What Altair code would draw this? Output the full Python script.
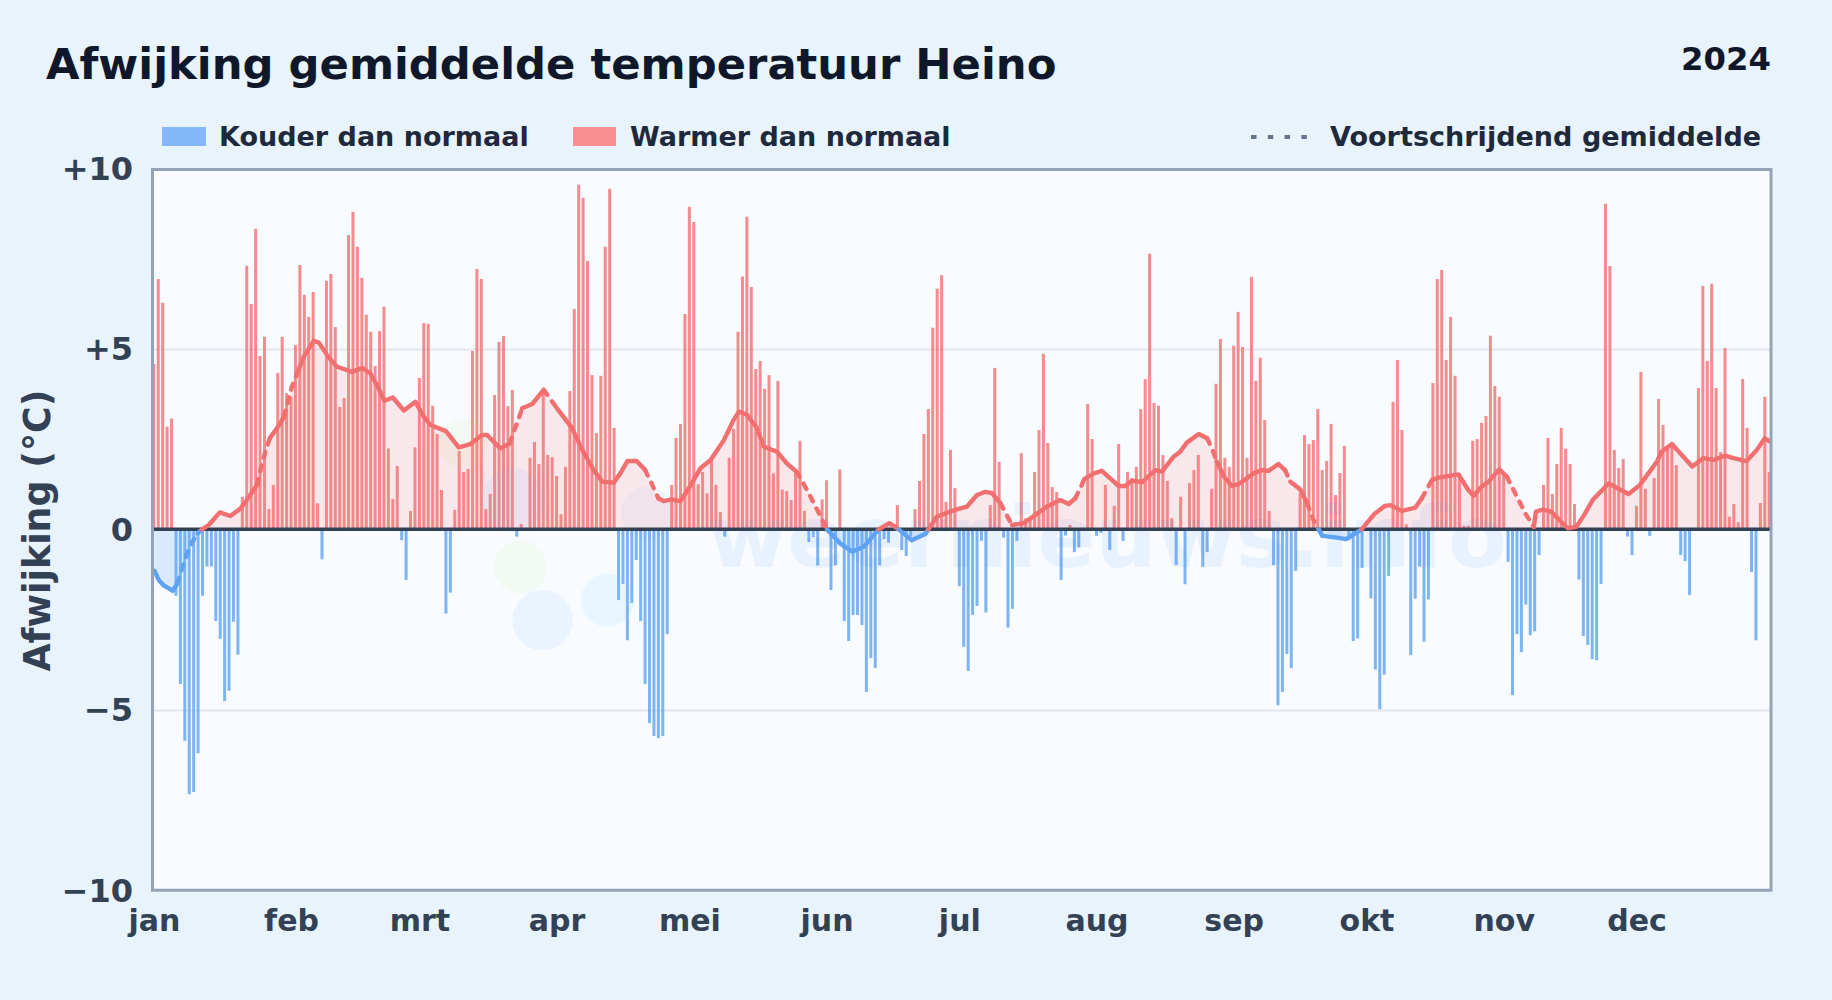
import altair as alt
import pandas as pd

TITLE = "Afwijking gemiddelde temperatuur Heino"
YEAR = "2024"
WATERMARK = "weernieuws.info"
MONTHS = ["jan","feb","mrt","apr","mei","jun","jul","aug","sep","okt","nov","dec"]
MONTH_START = [0,31,60,91,121,152,182,213,244,274,305,335]

jan = [4.58,6.93,6.27,2.84,3.07,-1.84,-4.28,-5.85,-7.33,-7.27,-6.2,-1.84,-1.03,-1.03,-2.54,-3.03,-4.75,-4.47,-2.56,-3.47,0.9,7.3,6.24,8.32,4.8,5.33,0.56,1.23,4.33,5.33,3.77]
feb = [3.67,5.1,7.32,6.49,5.88,6.57,0.72,-0.83,6.88,7.07,5.6,3.39,3.64,8.15,8.79,7.82,6.96,5.94,5.47,4.52,5.49,6.16,2.24,0.84,1.75,-0.3,-1.4,0.51,2.27]
mrt = [4.19,5.71,5.69,3.42,2.64,1.09,-2.33,-1.75,0.54,2.17,1.59,1.67,4.94,7.21,6.93,0.56,0.98,3.72,5.19,5.35,3.41,3.86,-0.2,0.15,0,1.98,2.42,1.81,3.86,2.06,2.0]
apr = [1.48,0.42,1.73,3.83,6.1,9.54,9.18,7.43,4.27,2.67,4.25,7.82,9.43,2.81,-1.96,-1.51,-3.07,-2.04,-0.85,-2.54,-4.28,-5.36,-5.72,-5.78,-5.72,-2.9,1.23,2.53,2.92,5.96]
mei = [8.93,8.51,1.25,1.59,1.0,1.92,1.23,0.48,-0.2,1.98,2.78,5.47,7.0,8.65,6.71,4.44,4.66,3.89,4.27,1.55,4.11,1.1,1.06,0.81,1.6,2.45,0.51,-0.35,-0.22,-1.0,0.83]
jun = [1.36,-1.68,-1.0,1.66,-2.54,-3.09,-2.37,-2.37,-2.65,-4.5,-3.56,-3.84,-1.0,-0.27,-0.37,0,0.67,-0.57,-0.74,-0.2,0.56,1.34,2.64,3.33,5.58,6.66,7.04,0.76,2.2,1.14]
jul = [-1.57,-3.25,-3.92,-2.37,-2.12,-0.32,-2.3,0.67,4.47,1.87,-0.23,-2.72,-2.2,-0.32,2.11,0.31,0.26,1.59,2.75,4.86,2.39,1.17,1.03,-1.4,-0.17,0.12,-0.63,-0.5,0,3.47,2.5]
aug = [-0.18,-0.1,1.23,-0.57,0.65,2.36,-0.32,1.59,1.42,1.73,3.33,4.16,7.63,3.5,3.42,2.06,1.34,0.31,-0.99,0.9,-1.52,1.28,1.64,2.06,-1.04,-0.63,1.12,4.03,5.27,1.98,1.73]
sep = [5.08,6.02,5.05,1.98,6.99,4.11,4.75,3.03,0.51,-0.99,-4.87,-4.5,-3.45,-3.84,-1.15,1.0,2.61,2.36,2.47,3.33,1.64,1.89,2.92,0.95,1.56,2.31,-0.3,-3.09,-3.02,-1.07]
okt = [0,-1.91,-3.88,-4.98,-4.02,-1.29,3.53,4.69,2.75,0.14,-3.48,-1.92,-1.03,-3.11,-1.94,4.05,6.93,7.18,4.69,5.88,4.25,1.5,0.1,0.1,2.45,2.5,2.95,3.14,5.36,3.97,3.67]
nov = [1.55,-0.9,-4.59,-2.9,-3.4,-2.08,-2.93,-2.82,-0.71,1.23,2.53,0.98,1.81,2.81,2.23,1.81,0.7,-1.39,-2.95,-3.2,-3.59,-3.62,-1.51,9.01,7.29,2.2,1.7,1.95,-0.2,-0.71]
dec = [0.65,4.36,1.12,-0.18,1.42,3.61,2.89,2.3,2.3,1.78,-0.71,-0.88,-1.82,0,3.91,6.74,4.66,6.8,3.91,2.14,5.02,0.35,0.7,0.2,4.16,2.81,-1.18,-3.07,0.73,3.67,1.59]
deviation = jan+feb+mrt+apr+mei+jun+jul+aug+sep+okt+nov+dec

avg_day = [0.15,1.1,2.3,4.3,5.3,6.2,7.4,8.3,9.9,10.9,12.4,14.9,17.3,19.6,21,23.3,24.2,25.2,26.2,28.6,29.4,31.2,32.4,33.9,36.1,37.3,39.5,41.4,44.8,47.1,48.9,50.6,52.1,54,56.5,59.1,61,62.5,66,68.9,71.5,74.2,75.3,78.3,80.4,81.3,82.2,83.2,85.5,88.1,91.1,94.5,96.8,99.4,101.3,103.9,105.4,107,109.1,111,112.1,114,115.2,117,119,120.9,123.5,125.8,128.8,131,132.2,134,136.3,137.8,140.8,143,145.2,147.6,149.9,152.1,155.1,157.8,160.4,163,163.8,166.2,168.3,171.2,174.3,175,176.9,179.2,181.4,183.7,186,187.9,189.4,191.3,193.9,196.5,199.2,201.8,204.8,206.7,208.2,209.5,210.2,212.4,214.2,216.1,218,219.5,221,223.3,226.3,227.8,230.4,231.9,233.4,236.1,238,239.1,240.2,241.8,243.6,245.1,248.5,250.4,251.9,254.1,255.6,256.8,259,260.6,262,263.2,264,267.3,269.4,272.9,275.9,278.2,279.4,282,285,286.5,288.8,290.3,294.8,297,298.2,300,301.6,304,305.7,307.6,309.9,311.8,312.3,313.8,315.7,317.6,319.5,321.4,323.2,325.1,328.7,333.2,335.8,339.6,340.7,343,345.6,347.6,350.1,352.4,355,356.9,359.9,362.2,364,365.2]
avg_val = [-1.15,-1.4,-1.56,-1.7,-1.5,-1.17,-0.71,-0.43,-0.11,0,0.12,0.47,0.37,0.58,0.81,1.23,1.69,2.15,2.52,2.94,3.12,3.95,4.32,4.78,5.22,5.17,4.76,4.5,4.36,4.47,4.32,3.95,3.56,3.65,3.29,3.53,3.12,2.89,2.72,2.27,2.36,2.61,2.61,2.24,2.38,2.7,2.98,3.35,3.47,3.86,3.35,2.8,2.2,1.64,1.32,1.29,1.55,1.89,1.89,1.64,1.37,0.86,0.78,0.83,0.78,1.14,1.69,1.92,2.47,3.03,3.26,3.17,2.8,2.29,2.15,1.83,1.6,1.09,0.54,0,-0.39,-0.62,-0.48,-0.11,0,0.17,0,-0.3,-0.13,0,0.35,0.46,0.55,0.63,0.95,1.04,1.0,0.72,0.12,0.17,0.4,0.63,0.81,0.7,0.86,1.18,1.39,1.55,1.62,1.41,1.2,1.2,1.35,1.31,1.64,1.6,2.01,2.15,2.4,2.64,2.52,2.24,1.87,1.46,1.2,1.25,1.55,1.64,1.62,1.81,1.64,1.32,1.11,0.72,0.26,0,-0.18,-0.23,-0.27,0,0.44,0.65,0.67,0.51,0.6,0.86,1.37,1.43,1.52,1.09,0.93,1.18,1.32,1.66,1.46,1.0,0.44,0.07,0.49,0.55,0.49,0.26,0.03,0.07,0.4,0.81,1.27,0.98,1.23,1.87,2.15,2.36,2.01,1.74,1.97,1.92,2.04,1.97,1.89,2.2,2.52,2.43]
dashed_spans = [(5.3,9.9),(23.3,26.2),(29.4,32.4),(80.4,83.2),(88.1,91.1),(110.8,114),(145.2,152.1),(191.3,193.9),(208.2,210.2),(238,240.2),(255.6,256.8),(260.6,264),(286.5,288.8),(305.7,311.8)]

RED, BLUE = "#fa7070", "#60a5fa"
BAR_RED, BAR_BLUE = "#f26f6f", "#5ea3f2"
x_scale = alt.Scale(domain=[-0.3, 365.4], nice=False, zero=False, padding=0)
y_scale = alt.Scale(domain=[-10, 10], nice=False, padding=0)

bars = pd.DataFrame({"day": range(len(deviation)), "dev": deviation})
bars["kind"] = ["warm" if v >= 0 else "cold" for v in deviation]
avg = pd.DataFrame({"day": avg_day, "val": avg_val})
avg["pos"] = avg["val"].clip(lower=0)
avg["neg"] = avg["val"].clip(upper=0)

# split the running mean into runs of one colour and one line style
rows, seg, prev = [], 0, None
for i in range(len(avg_day) - 1):
    a, b = (avg_day[i], avg_val[i]), (avg_day[i + 1], avg_val[i + 1])
    mid = (a[0] + b[0]) / 2
    style = ("cold" if (a[1] + b[1]) < 0 else "warm",
             any(s <= mid <= e for s, e in dashed_spans))
    if style != prev:
        seg += 1
        rows.append(dict(day=a[0], val=a[1], seg=seg, kind=style[0], dashed=style[1]))
        prev = style
    rows.append(dict(day=b[0], val=b[1], seg=seg, kind=style[0], dashed=style[1]))
runs = pd.DataFrame(rows)

kind_color = alt.Color("kind:N", scale=alt.Scale(domain=["warm", "cold"], range=[RED, BLUE]), legend=None)
bar_color = alt.Color("kind:N", scale=alt.Scale(domain=["warm", "cold"], range=[BAR_RED, BAR_BLUE]), legend=None)

month_map = "{" + ",".join(f"'{s}':'{m}'" for s, m in zip(MONTH_START, MONTHS)) + "}"
axis_x = alt.Axis(values=MONTH_START, labelExpr=f"{month_map}[datum.value]", title=None, grid=False,
                  ticks=False, domain=False, labelFont="DejaVu Sans", labelFontWeight="bold", labelFontSize=30,
                  labelColor="#334155", labelPadding=16, labelFlush=False, labelOverlap=False)
axis_y = alt.Axis(values=[-10, -5, 0, 5, 10],
                  labelExpr="datum.value > 0 ? '+' + datum.value : datum.value < 0 ? '\u2212' + abs(datum.value) : '0'",
                  title="Afwijking (\u00b0C)", titleFont="DejaVu Sans", titleFontWeight="bold", titleFontSize=36.4,
                  titleColor="#334155", titleAngle=270, titleX=-114, titleY=362, titleAlign="center", titleBaseline="middle",
                  grid=True, gridColor="#e2e8f0", gridWidth=2,
                  gridOpacity={"condition": {"test": "abs(datum.value) != 5", "value": 0}, "value": 1},
                  ticks=False, domain=False, labelFont="DejaVu Sans", labelFontWeight="bold", labelFontSize=32,
                  labelColor="#334155", labelPadding=20, labelOffset=1, labelOverlap=False, labelFlush=False)
X = lambda: alt.X("day:Q", scale=x_scale, axis=axis_x)
Y = lambda f: alt.Y(f, type="quantitative", scale=y_scale, axis=axis_y)

def txt(s, x, y, size, color, align="left", opacity=1):
    kw = dict(text=s, font="DejaVu Sans", fontWeight="bold", fontSize=size, color=color, align=align, baseline="alphabetic", opacity=opacity)
    return alt.Chart().mark_text(**kw).encode(x=alt.value(x), y=alt.value(y))

def blob(x, y, r, color, opacity):
    return alt.Chart().mark_circle(color=color, opacity=opacity).encode(
        x=alt.value(x), y=alt.value(y), size=alt.value(3.1416 * r * r))

def swatch(x0, x1, y0, y1, color):
    return alt.Chart().mark_rect(color=color).encode(x=alt.value(x0), x2=alt.value(x1), y=alt.value(y0), y2=alt.value(y1))

W, H = 1618.5, 722.5
OX, OY = 152.5, 168.1

blobs = [blob(390, 452, 34, "#60a5fa", 0.09), blob(455, 432, 30, "#7dd3fc", 0.12), blob(368, 399, 30, "#bef264", 0.07),
         blob(311, 275, 28, "#bef264", 0.07), blob(361, 332, 36, "#60a5fa", 0.08), blob(495, 345, 30, "#60a5fa", 0.05)]
watermark = txt(WATERMARK, 955, 399, 86, "#3b82f6", align="center", opacity=0.08)

area_pos = alt.Chart(avg).mark_area(color=RED, opacity=0.14, clip=True).encode(x=X(), y=Y("pos"), y2=alt.datum(0))
area_neg = alt.Chart(avg).mark_area(color=BLUE, opacity=0.2, clip=True).encode(x=X(), y=Y("neg"), y2=alt.datum(0))

bar_layer = alt.Chart(bars).mark_bar(width=3, opacity=0.8, clip=True).encode(
    x=X(), y=Y("dev"), y2=alt.datum(0), color=bar_color)
zero = alt.Chart().mark_rule(color="#334155", strokeWidth=3.5).encode(y=alt.Y(datum=0, type="quantitative", scale=y_scale, axis=axis_y))

line_common = dict(strokeWidth=4.4, strokeCap="round", strokeJoin="round", clip=True)
enc = dict(x=X(), y=Y("val"), color=kind_color, detail="seg:N", order="day:Q")
solid = alt.Chart(runs[~runs.dashed]).mark_line(**line_common).encode(**enc)
dash = alt.Chart(runs[runs.dashed]).mark_line(strokeDash=[6, 8], **line_common).encode(**enc)

frame = alt.Chart().mark_rect(fillOpacity=0, stroke="#94a3b8", strokeWidth=3).encode(
    x=alt.value(0), x2=alt.value(W), y=alt.value(169.5 - OY), y2=alt.value(890.3 - OY))

header = [
    txt(TITLE, 46 - OX, 79 - OY, 43.3, "#0f172a"),
    txt(YEAR, 1771 - OX, 70 - OY, 32.3, "#0f172a", align="right"),
    swatch(162 - OX, 206 - OX, 127 - OY, 146 - OY, "#85b8fb"),
    txt("Kouder dan normaal", 219 - OX, 146 - OY, 27, "#1e293b"),
    swatch(573 - OX, 616 - OX, 127 - OY, 146 - OY, "#f98f90"),
    txt("Warmer dan normaal", 630 - OX, 146 - OY, 27, "#1e293b"),
    alt.Chart().mark_rule(color="#64748b", strokeWidth=4, strokeDash=[5.5, 11.3]).encode(
        x=alt.value(1251 - OX), x2=alt.value(1310 - OX), y=alt.value(137 - OY)),
    txt("Voortschrijdend gemiddelde", 1330 - OX, 146 - OY, 27.05, "#1e293b"),
]

chart = alt.layer(bar_layer, *blobs, watermark, area_pos, area_neg, zero, solid, dash, frame, *header).properties(
    width=W, height=H, background="#e8f3fc",
    autosize=alt.AutoSizeParams(type="none"),
    padding={"left": 144.5, "top": 160.1, "right": 53, "bottom": 101.4},
).configure_view(fill="#f8fbff", strokeWidth=0)

chart.save("out.html", embed_options={"renderer": "svg", "actions": False,
           "defaultStyle": "html,body{background:#e8f3fc;overflow:hidden}"})
